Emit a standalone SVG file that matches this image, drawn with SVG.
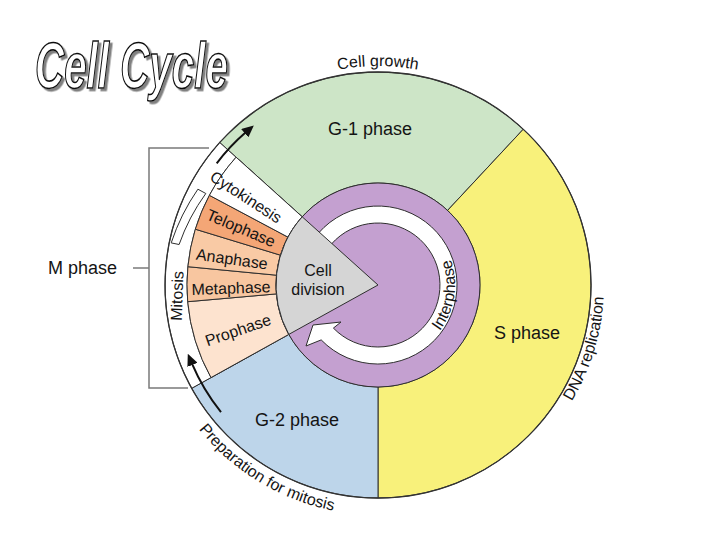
<svg xmlns="http://www.w3.org/2000/svg" width="720" height="540" viewBox="0 0 720 540">
<style>
.t{font-family:"Liberation Sans",Arial,sans-serif;fill:#141414}
.big{font-size:18px}
.sm{font-size:16px}
.ln{stroke:#2e2e2e;stroke-width:1;stroke-linejoin:round}
.br{stroke:#7a7a7a;stroke-width:1.5;fill:none}
.ar{stroke:#111;stroke-width:2;fill:none}
.ttl{font-family:"Liberation Sans",Arial,sans-serif;font-weight:bold;font-style:italic;font-size:65px;fill:#fff;stroke:#111;stroke-width:1.6}
</style>
<defs>
<filter id="sh" x="-5%" y="-10%" width="115%" height="130%">
<feDropShadow dx="2.5" dy="2.5" stdDeviation="0.4" flood-color="#808080" flood-opacity="1"/>
</filter>
<marker id="ah" markerWidth="12" markerHeight="11" refX="1" refY="5.5" orient="auto" markerUnits="userSpaceOnUse">
<path d="M0,0 L12,5.5 L0,11 Z" fill="#111"/>
</marker>
<path id="pGrowth" d="M 268.5,95.4 A 219 219 0 0 1 487.5,95.4"/>
<path id="pDNA" d="M 551.1,430.3 A 226 226 0 0 0 600.6,245.8"/>
<path id="pPrep" d="M 178.8,400 A 230 230 0 0 0 378,515"/>
<path id="pInter" d="M 427.5,344 A 77 77 0 0 0 437,235.5"/>
</defs>
<rect width="720" height="540" fill="#fff"/>

<g id="title" filter="url(#sh)">
<text class="ttl" transform="translate(35,88) scale(0.621,1)" x="0" y="0">Cell Cycle</text>
</g>

<g id="g1-phase">
<path class="ln" fill="#cde5c7" d="M 302.2,216.8 L 219.7,142.5 A 213 213 0 0 1 523.3,129.2 L 447.6,210.4 A 102 102 0 0 0 302.2,216.8 Z"/>
<text class="t big" x="370" y="135" text-anchor="middle">G-1 phase</text>
<text class="t sm"><textPath href="#pGrowth" startOffset="50%" text-anchor="middle">Cell growth</textPath></text>
</g>

<g id="s-phase">
<path class="ln" fill="#f8f17b" d="M 447.6,210.4 L 523.3,129.2 A 213 213 0 0 1 378,498 L 378,387 A 102 102 0 0 0 447.6,210.4 Z"/>
<text class="t big" x="527" y="339" text-anchor="middle">S phase</text>
<text class="t sm"><textPath href="#pDNA" startOffset="46%" text-anchor="middle">DNA replication</textPath></text>
</g>

<g id="g2-phase">
<path class="ln" fill="#bdd5ea" d="M 378,387 L 378,498 A 213 213 0 0 1 191.7,388.3 L 288.8,334.4 A 102 102 0 0 0 378,387 Z"/>
<text class="t big" x="297" y="426" text-anchor="middle">G-2 phase</text>
<text class="t sm"><textPath href="#pPrep" startOffset="48%" text-anchor="middle">Preparation for mitosis</textPath></text>
</g>

<g id="m-region">
<path class="ln" fill="#fff" d="M 288.8,334.4 L 191.7,388.3 A 213 213 0 0 1 219.7,142.5 L 302.2,216.8 A 102 102 0 0 0 288.8,334.4 Z"/>
<path class="ln" fill="none" d="M 211.0,377.6 A 191 191 0 0 1 236.1,157.2"/>
</g>

<g id="prophase">
<path class="ln" fill="#fde3cf" d="M 288.8,334.4 L 211.0,377.6 A 191 191 0 0 1 187.7,301.7 L 276.4,293.9 A 102 102 0 0 0 288.8,334.4 Z"/>
<text class="t sm" transform="translate(238,330) rotate(-19)" text-anchor="middle" dy="0.35em">Prophase</text>
</g>
<g id="metaphase">
<path class="ln" fill="#f8c6a0" d="M 276.4,293.9 L 187.7,301.7 A 191 191 0 0 1 187.9,266.7 L 276.5,275.2 A 102 102 0 0 0 276.4,293.9 Z"/>
<text class="t sm" transform="translate(231,288) rotate(-2)" text-anchor="middle" dy="0.35em">Metaphase</text>
</g>
<g id="anaphase">
<path class="ln" fill="#f9caa5" d="M 276.5,275.2 L 187.9,266.7 A 191 191 0 0 1 195.3,229.2 L 280.5,255.2 A 102 102 0 0 0 276.5,275.2 Z"/>
<text class="t sm" transform="translate(232,259) rotate(8)" text-anchor="middle" dy="0.35em">Anaphase</text>
</g>
<g id="telophase">
<path class="ln" fill="#f4a676" d="M 280.5,255.2 L 195.3,229.2 A 191 191 0 0 1 209.4,195.3 L 287.9,237.1 A 102 102 0 0 0 280.5,255.2 Z"/>
<text class="t sm" transform="translate(241,228) rotate(23)" text-anchor="middle" dy="0.35em">Telophase</text>
</g>
<g id="cytokinesis">
<path class="ln" fill="#fff" d="M 287.9,237.1 L 209.4,195.3 A 191 191 0 0 1 236.1,157.2 L 302.2,216.8 A 102 102 0 0 0 287.9,237.1 Z"/>
<text class="t sm" transform="translate(246,197) rotate(33)" text-anchor="middle" dy="0.35em">Cytokinesis</text>
</g>

<g id="mitosis">
<path class="ln" fill="#fff" d="M 205.8,193.5 L 197.9,189.2 A 208 208 0 0 0 171.2,242.9 L 179.1,244.5 A 199 199 0 0 1 205.8,193.5 Z"/>
<text class="t sm" transform="translate(177,296) rotate(-88)" text-anchor="middle" dy="0.35em">Mitosis</text>
</g>

<circle cx="378" cy="285" r="213" fill="none" stroke="#333" stroke-width="1.3"/>

<g id="interphase">
<circle cx="378" cy="285" r="102" fill="#c4a0d0" class="ln"/>
<path class="ln" fill="#fff" d="M 318.4,233.2 A 79 79 0 1 1 321.2,339.9 L 306,346 L 313,325 L 341,322 L 333.4,328.1 A 62 62 0 1 0 331.2,244.3 Z"/>
<text class="t sm"><textPath href="#pInter" startOffset="46%" text-anchor="middle">Interphase</textPath></text>
</g>

<g id="cell-division">
<path class="ln" fill="#d5d5d5" d="M 378,285 L 302.2,216.8 A 102 102 0 0 0 288.8,334.4 Z"/>
<text class="t sm" x="318" y="276" text-anchor="middle">Cell</text>
<text class="t sm" x="318" y="295" text-anchor="middle">division</text>
</g>

<g id="m-phase">
<text class="t big" x="48" y="274">M phase</text>
</g>

<g id="connectors">
<path class="ar" d="M 216.7,163.4 A 202 202 0 0 1 245.5,132.6" marker-end="url(#ah)"/>
<path class="ar" d="M 221.0,412.1 A 202 202 0 0 1 192.1,363.9" marker-end="url(#ah)"/>
<path class="br" d="M 209,148 L 149,148 L 149,388 L 188,388"/>
<path class="br" d="M 133,268 L 149,268"/>
</g>
</svg>
